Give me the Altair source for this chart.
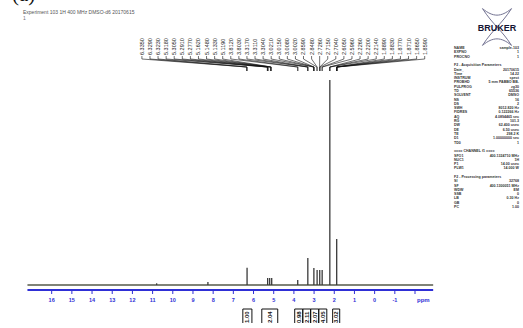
import altair as alt
import numpy as np
import pandas as pd

# 1H spectrum: peak positions (ppm) and relative heights (tallest = 100)
peak_ppm = [10.80, 8.26, 6.32, 5.30, 5.20, 5.10, 3.81, 3.31, 3.01, 2.85, 2.72, 2.60, 2.22, 1.88]
peak_height = [0.8, 1.5, 8.4, 3.4, 3.4, 3.4, 2.4, 13.2, 8.3, 7.3, 7.3, 7.3, 100.0, 22.4]

# spectral window drawn by the baseline
window_start = 17.2
window_end = -2.9

# axis ticks (ppm); the last tick carries the unit instead of a number
tick_values = list(range(16, -3, -1))
unit_tick = -2

# peak-pick list printed above the spectrum
peak_labels = [
    "6.3350", "6.3290", "6.3230",
    "5.3180", "5.3050", "5.2910", "5.2770", "5.1620", "5.1480", "5.1330", "5.1190",
    "3.8120", "3.8030",
    "3.3170", "3.3110", "3.3040",
    "3.0210", "3.0150", "3.0080", "3.0020",
    "2.8590", "2.8480", "2.7260", "2.7150", "2.7040", "2.6050", "2.5960",
    "2.2260", "2.2200", "2.2140",
    "1.8890", "1.8830", "1.8770", "1.8710", "1.8650", "1.8590",
]

# integral regions (ppm) and their values
integral_start = [6.53, 5.59, 3.96, 3.56, 3.17, 2.77, 2.08]
integral_end = [6.08, 4.80, 3.56, 3.17, 2.77, 2.37, 1.73]
integral_value = ["1.00", "2.04", "0.98", "2.11", "2.07", "4.05", "3.02"]

# acquisition / processing parameters; a row with value None is a section header
param_names = [
    "NAME", "EXPNO", "PROCNO", "",
    "F2 - Acquisition Parameters", "Date_", "Time", "INSTRUM", "PROBHD", "PULPROG",
    "TD", "SOLVENT", "NS", "DS", "SWH", "FIDRES", "AQ", "RG", "DW", "DE", "TE",
    "D1", "TD0", "",
    "==== CHANNEL f1 ====", "SFO1", "NUC1", "P1", "PLW1", "",
    "F2 - Processing parameters", "SI", "SF", "WDW", "SSB", "LB", "GB", "PC",
]
param_values = [
    "sample-103", "1", "1", "",
    None, "20170615", "14.22", "spect", "5 mm PABBO BB-", "zg30",
    "65536", "DMSO", "16", "2", "8012.820 Hz", "0.122266 Hz", "4.0894465 sec",
    "101.3", "62.400 usec", "6.50 usec", "298.2 K",
    "1.00000000 sec", "1", "",
    None, "400.1324710 MHz", "1H", "14.00 usec", "14.000 W", "",
    None, "32768", "400.1300051 MHz", "EM", "0", "0.30 Hz", "0", "1.00",
]

W, H = 523, 328
BLUE = "#2f2fd6"
INK = "#3a3a3a"
FONT = "Liberation Sans"

xs = alt.Scale(domain=[18.56, -7.35], nice=False, zero=False)
ys = alt.Scale(domain=[-21, 139], nice=False, zero=False)

peaks = pd.DataFrame({"ppm": peak_ppm, "h": peak_height, "base": 0.0})
baseline_df = pd.DataFrame({"a": [window_start], "b": [window_end], "y": [0.0]})

# baseline of the spectrum
baseline = alt.Chart(baseline_df).mark_rule(color="#55584a", strokeWidth=1.6).encode(
    x=alt.X("a:Q", scale=xs, axis=None),
    x2="b:Q",
    y=alt.Y("y:Q", scale=ys, axis=None),
)

# peaks as sticks from the baseline
sticks = alt.Chart(peaks).mark_rule(color=INK, strokeWidth=1.3).encode(
    x=alt.X("ppm:Q", scale=xs, axis=None),
    y=alt.Y("base:Q", scale=ys, axis=None),
    y2="h:Q",
)

# blue ppm axis
axis_line = alt.Chart(baseline_df).mark_rule(color=BLUE, strokeWidth=2).encode(
    x=alt.X("a:Q", scale=xs, axis=None),
    x2="b:Q",
    y=alt.value(290),
)
ticks_df = pd.DataFrame({"ppm": tick_values})
ticks_df["label"] = [str(t) if t != unit_tick else "" for t in tick_values]
tick_marks = alt.Chart(ticks_df).mark_rule(color=BLUE, strokeWidth=1).encode(
    x=alt.X("ppm:Q", scale=xs, axis=None),
    y=alt.value(290),
    y2=alt.value(294),
)
tick_labels = alt.Chart(ticks_df).mark_text(
    color=BLUE, fontSize=5.5, font=FONT, fontWeight="bold", baseline="middle"
).encode(
    x=alt.X("ppm:Q", scale=xs, axis=None),
    y=alt.value(300),
    text="label:N",
)
ppm_unit = alt.Chart(pd.DataFrame({"ppm": [unit_tick], "t": ["ppm"]})).mark_text(
    color=BLUE, fontSize=6, font=FONT, fontWeight="bold", baseline="middle", align="left", dx=2
).encode(x=alt.X("ppm:Q", scale=xs, axis=None), y=alt.value(300), text="t:N")

# peak-pick labels and leader lines
n = len(peak_labels)
slots = np.linspace(11.53, -2.48, n)
lab = pd.DataFrame({
    "slot": slots,
    "peak": [float(s) for s in peak_labels],
    "text": peak_labels,
})
label_text = alt.Chart(lab).mark_text(
    fontSize=5.5, font=FONT, angle=270, align="left", baseline="middle", color="#222"
).encode(
    x=alt.X("slot:Q", scale=xs, axis=None),
    y=alt.value(55),
    text="text:N",
)
lead1 = alt.Chart(lab).mark_rule(color="#111", strokeWidth=0.6).encode(
    x=alt.X("slot:Q", scale=xs, axis=None), y=alt.value(56), y2=alt.value(59)
)
lead2 = alt.Chart(lab).mark_rule(color="#111", strokeWidth=0.6).encode(
    x=alt.X("slot:Q", scale=xs, axis=None), x2="peak:Q", y=alt.value(59), y2=alt.value(67)
)
lead3 = alt.Chart(lab).mark_rule(color="#111", strokeWidth=0.6).encode(
    x=alt.X("peak:Q", scale=xs, axis=None), y=alt.value(67), y2=alt.value(71)
)

# integral brackets under the axis
integ = pd.DataFrame({
    "s": integral_start,
    "e": integral_end,
    "v": integral_value,
})
integ["mid"] = (integ["s"] + integ["e"]) / 2
int_top = alt.Chart(integ).mark_rule(color="#111", strokeWidth=1).encode(
    x=alt.X("s:Q", scale=xs, axis=None), x2="e:Q", y=alt.value(309)
)
int_left = alt.Chart(integ).mark_rule(color="#111", strokeWidth=1).encode(
    x=alt.X("s:Q", scale=xs, axis=None), y=alt.value(309), y2=alt.value(323)
)
int_right = alt.Chart(integ).mark_rule(color="#111", strokeWidth=1).encode(
    x=alt.X("e:Q", scale=xs, axis=None), y=alt.value(309), y2=alt.value(323)
)
int_text = alt.Chart(integ).mark_text(
    fontSize=6, font=FONT, fontWeight="bold", angle=270, align="left", baseline="middle", color="#111"
).encode(
    x=alt.X("mid:Q", scale=xs, axis=None), y=alt.value(323), text="v:N"
)

# header
header = alt.Chart(pd.DataFrame({"t": ["Experiment 103  1H  400 MHz  DMSO-d6  20170615"]})).mark_text(
    fontSize=5, font=FONT, align="left", baseline="middle", color="#555"
).encode(x=alt.value(23), y=alt.value(12), text="t:N")
header2 = alt.Chart(pd.DataFrame({"t": ["1"]})).mark_text(
    fontSize=5, font=FONT, align="left", baseline="middle", color="#777"
).encode(x=alt.value(23), y=alt.value(18), text="t:N")
panel_tag = alt.Chart(pd.DataFrame({"t": ["(a)"]})).mark_text(
    fontSize=21, font="Liberation Serif", align="left", baseline="alphabetic", color="#111"
).encode(x=alt.value(12), y=alt.value(1), text="t:N")

# logo
logo_text = alt.Chart(pd.DataFrame({"t": ["BRUKER"]})).mark_text(
    fontSize=9, font=FONT, fontWeight="bold", color="#141432"
).encode(x=alt.value(497), y=alt.value(28), text="t:N")
orbit = ("M -0.75 -0.95 C -0.2 -0.1 0.2 0.1 0.75 0.95 "
         "M 0.75 -0.95 C 0.2 -0.1 -0.2 0.1 -0.75 0.95 "
         "M -0.75 -0.95 C -0.2 -0.5 0.2 -0.5 0.75 -0.95 "
         "M -0.75 0.95 C -0.2 0.5 0.2 0.5 0.75 0.95")
logo_orbit = alt.Chart(pd.DataFrame({"k": [0]})).mark_point(
    shape=orbit, size=1500, stroke="#3a3a66", strokeWidth=1, filled=False
).encode(x=alt.value(497), y=alt.value(27))

# parameter block: one text block per section for names and values, headers on their own
LH = 4.3
TOP = 46
param_layers = []
text_style = dict(fontSize=3.6, font=FONT, baseline="top", lineBreak="\n",
                  lineHeight=LH, color="#333", fontWeight="bold")


def flush(rows, start):
    if not rows:
        return
    names = "\n".join(r[0] for r in rows)
    vals = "\n".join(r[1] for r in rows)
    y0 = TOP + start * LH
    param_layers.append(alt.Chart(pd.DataFrame({"t": [names]})).mark_text(
        align="left", **text_style).encode(x=alt.value(454), y=alt.value(y0), text="t:N"))
    param_layers.append(alt.Chart(pd.DataFrame({"t": [vals]})).mark_text(
        align="right", **text_style).encode(x=alt.value(519), y=alt.value(y0), text="t:N"))


rows, start = [], 0
for i, (nm, val) in enumerate(zip(param_names, param_values)):
    if val is None:
        flush(rows, start)
        param_layers.append(alt.Chart(pd.DataFrame({"t": [nm]})).mark_text(
            align="left", **text_style).encode(x=alt.value(454), y=alt.value(TOP + i * LH), text="t:N"))
        rows, start = [], i + 1
    else:
        if not rows:
            start = i
        rows.append((nm, val))
flush(rows, start)

chart = alt.layer(
    axis_line, tick_marks, tick_labels, ppm_unit,
    baseline, sticks,
    lead1, lead2, lead3, label_text,
    int_top, int_left, int_right, int_text,
    header, header2, panel_tag,
    logo_orbit, logo_text,
    *param_layers,
).properties(
    width=W, height=H, padding=0, autosize=alt.AutoSizeParams(type="none"),
    background="white",
).configure_view(stroke=None)

chart.save("out.html", embed_options={"renderer": "svg", "actions": False})
